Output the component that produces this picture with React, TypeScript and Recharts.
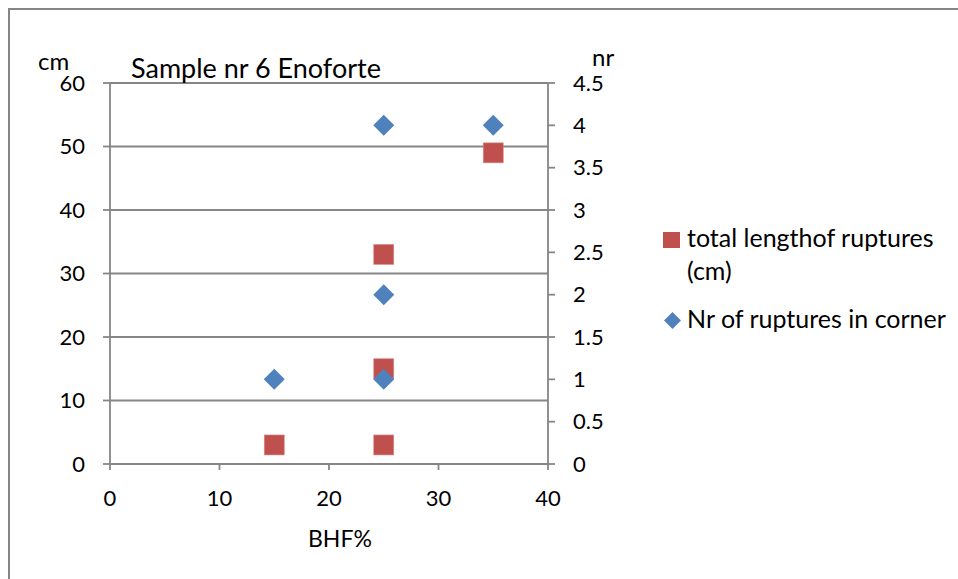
import { ScatterChart, Scatter, XAxis, YAxis, CartesianGrid } from "recharts";

const lengthX = [15, 25, 25, 25, 35];
const lengthCm = [3, 3, 15, 33, 49];
const cornerX = [15, 25, 25, 25, 35];
const cornerNr = [1, 1, 2, 4, 4];

const xTicks = [0, 10, 20, 30, 40];
const cmTicks = [0, 10, 20, 30, 40, 50, 60];
const nrTicks = [0, 0.5, 1, 1.5, 2, 2.5, 3, 3.5, 4, 4.5];

const lengthData = lengthX.map((x, i) => ({ x, cm: lengthCm[i] }));
const cornerData = cornerX.map((x, i) => ({ x, nr: cornerNr[i] }));

const RED = "#C0504D";
const BLUE = "#4F81BD";
const GRID = "#868686";
const FONT = "Lato, 'Open Sans', sans-serif";

const Square = (props: any) => {
  const { cx, cy } = props;
  const s = 20;
  return <rect x={cx - s / 2} y={cy - s / 2} width={s} height={s} fill={RED} stroke="#d98d8b" strokeWidth={0.6} />;
};

const Diamond = (props: any) => {
  const { cx, cy } = props;
  const r = 10.5;
  return <polygon points={`${cx},${cy - r} ${cx + r},${cy} ${cx},${cy + r} ${cx - r},${cy}`} fill={BLUE} />;
};

const tickStyle = { fill: "#000", fontSize: 22, fontFamily: FONT };

export default function App() {
  return (
    <div style={{ position: "fixed", left: 8, top: 8, width: 950, height: 571, overflow: "hidden", background: "#fff" }}>
      <div
        style={{
          width: 1000,
          height: 620,
          borderTop: `2px solid ${GRID}`,
          borderLeft: `2px solid ${GRID}`,
          position: "absolute",
          left: 0,
          top: 0,
        }}
      />
      <div style={{ position: "absolute", left: 2, top: 2 }}>
        <ScatterChart width={948} height={569} margin={{ top: 73, right: 350, bottom: 85, left: 60 }}>
          <CartesianGrid yAxisId="left" horizontal vertical={false} stroke={GRID} strokeWidth={1.8} />
          <XAxis
            type="number"
            dataKey="x"
            domain={[0, 40]}
            ticks={xTicks}
            height={30}
            tickSize={6}
            tickMargin={20}
            stroke={GRID}
            strokeWidth={1.8}
            tick={tickStyle}
          />
          <YAxis
            yAxisId="left"
            type="number"
            dataKey="cm"
            domain={[0, 60]}
            ticks={cmTicks}
            width={40}
            tickSize={7}
            tickMargin={18}
            stroke={GRID}
            strokeWidth={1.8}
            tick={tickStyle}
          />
          <YAxis
            yAxisId="right"
            orientation="right"
            type="number"
            dataKey="nr"
            domain={[0, 4.5]}
            ticks={nrTicks}
            width={60}
            tickSize={7}
            tickMargin={18}
            stroke={GRID}
            strokeWidth={1.8}
            tick={tickStyle}
          />
          <Scatter
            yAxisId="left"
            name="total lengthof ruptures (cm)"
            data={lengthData}
            dataKey="cm"
            shape={Square}
            isAnimationActive={false}
          />
          <Scatter
            yAxisId="right"
            name="Nr of ruptures in corner"
            data={cornerData}
            dataKey="nr"
            shape={Diamond}
            isAnimationActive={false}
          />
        </ScatterChart>
        <svg
          width={948}
          height={569}
          style={{ position: "absolute", left: 0, top: 0, pointerEvents: "none" }}
        >
          <text x={121} y={68} fontSize={27} fontFamily={FONT} fill="#000">Sample nr 6 Enoforte</text>
          <text x={28} y={60} fontSize={24} fontFamily={FONT} fill="#000">cm</text>
          <text x={582} y={56} fontSize={24} fontFamily={FONT} fill="#000">nr</text>
          <text x={298} y={537} fontSize={23} fontFamily={FONT} fill="#000">BHF%</text>
          <g transform="translate(653,222)">
            <rect x={0} y={0} width={17} height={16} fill={RED} />
            <text x={24} y={15} fontSize={25} fontFamily={FONT} fill="#000">total lengthof ruptures</text>
            <text x={24} y={48} fontSize={25} fontFamily={FONT} fill="#000">(cm)</text>
            <polygon points="9.5,80 18,88.5 9.5,97 1,88.5" fill={BLUE} />
            <text x={24} y={96} fontSize={25} fontFamily={FONT} fill="#000">Nr of ruptures in corner</text>
          </g>
        </svg>
      </div>
    </div>
  );
}
